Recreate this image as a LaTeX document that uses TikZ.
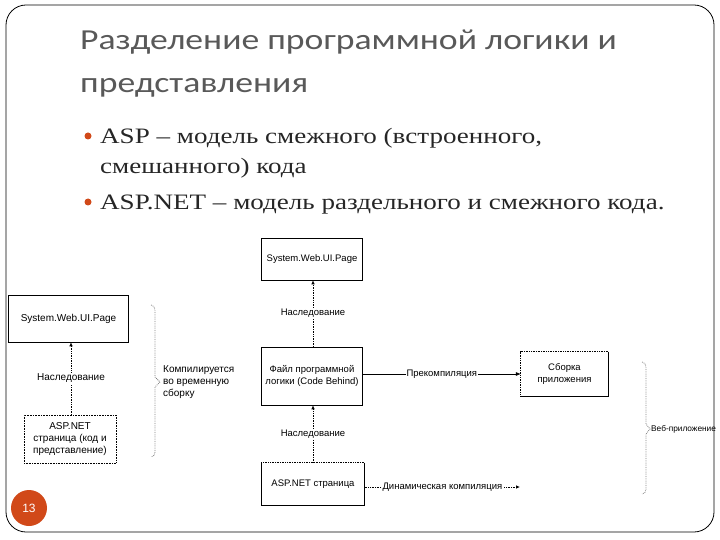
\documentclass[tikz,border=0pt]{standalone}
\usepackage{fontspec}
\setmainfont{Liberation Serif}
\newfontfamily\titlefont{Carlito}
\newfontfamily\diag{Liberation Sans}
\usetikzlibrary{arrows.meta}
\definecolor{accent}{HTML}{D14919}
\definecolor{titlegray}{HTML}{595959}
\definecolor{bodytext}{HTML}{262626}
\newcommand{\wideT}[1]{\scalebox{1.23}[1]{#1}}
\newcommand{\wideB}[1]{\scalebox{1.23}[1]{#1}}
\tikzset{
  x=1pt, y=-1pt,
  box/.style={draw=black, line width=0.6pt, inner sep=2pt, align=center, font=\diag\fontsize{9.5}{11.5}\selectfont},
  plainbox/.style={inner sep=2pt, align=center, font=\diag\fontsize{9.5}{11.5}\selectfont},
  lbl/.style={font=\diag\fontsize{9.5}{11.5}\selectfont, fill=white, inner sep=1pt},
  inh/.style={densely dotted, line width=0.7pt, -{Latex[length=4pt,width=3.5pt]}},
  solidarr/.style={line width=0.6pt, -{Latex[length=5pt,width=4pt]}},
  brace/.style={gray, densely dotted, line width=0.8pt},
  bullettext/.style={anchor=base west, inner sep=0pt, text=bodytext, font=\fontsize{22}{26}\selectfont},
  titletext/.style={anchor=base west, inner sep=0pt, text=titlegray, font=\titlefont\fontsize{29}{34}\selectfont},
}
\begin{document}
\begin{tikzpicture}
\useasboundingbox (0,0) rectangle (720,540);
% slide frame
\draw[line width=0.8pt, rounded corners=20pt] (6,5) rectangle (714,532);

% title
\node[titletext] (t1) at (80,50) {\wideT{Разделение программной логики и}};
\node[titletext] (t2) at (80,93) {\wideT{представления}};

% bullets
\node[circle, fill=accent, inner sep=0pt, minimum size=7pt] (b1) at (88,136) {};
\node[bullettext] (l1) at (100,144) {\wideB{ASP -- модель смежного (встроенного,}};
\node[bullettext] (l2) at (100,174) {\wideB{смешанного) кода}};
\node[circle, fill=accent, inner sep=0pt, minimum size=7pt] (b2) at (88,202) {};
\node[bullettext] (l3) at (100,210) {\wideB{ASP.NET -- модель раздельного и смежного кода.}};

% ---- left diagram
\node[box, minimum width=120pt, minimum height=47pt, font=\diag\fontsize{10}{12}\selectfont] (p1) at (68.5,318.5) {System.Web.UI.Page};
\node[box, densely dotted, minimum width=92pt, minimum height=48pt, font=\diag\fontsize{10}{12}\selectfont] (p2) at (70,439) {ASP.NET\\страница (код и\\представление)};
\draw[inh] (p2.north -| 71,0) -- node[lbl, font=\diag\fontsize{10}{12}\selectfont] {Наследование} (p1.south -| 71,0);
\draw[brace] (151,305) to[out=0,in=90] (155,310) -- (155,377) -- (160,382) -- (155,387) -- (155,452) to[out=-90,in=0] (151,457);
\node[anchor=west, align=left, inner sep=0pt, font=\diag\fontsize{10}{12}\selectfont] (compl) at (163,382) {Компилируется\\во временную\\сборку};

% ---- middle diagram
\node[box, minimum width=101pt, minimum height=42pt] (A) at (312,259) {System.Web.UI.Page};
\node[box, minimum width=101pt, minimum height=58pt] (B) at (312,376) {Файл программной\\логики (Code Behind)};
\node[plainbox, minimum width=103pt, minimum height=42pt] (C) at (313,484) {ASP.NET страница};
\draw[line width=0.6pt] (C.north east) -- (C.south east) -- (C.south west) -- (C.north west);
\draw[densely dotted, line width=0.7pt] (C.north west) -- (C.north east);
\node[plainbox, minimum width=87pt, minimum height=44pt] (D) at (564.5,374) {Сборка\\приложения};
\draw[line width=0.6pt] (D.north east) -- (D.south east) -- (D.south west);
\draw[densely dotted, line width=0.7pt] (D.south west) -- (D.north west) -- (D.north east);

\draw[inh] (B.north -| 313,0) -- node[lbl] {Наследование} (A.south -| 313,0);
\draw[inh] (C.north -| 313,0) -- node[lbl] {Наследование} (B.south -| 313,0);
\draw[solidarr] (B.east |- D) -- node[lbl] {Прекомпиляция} (D.west);
\coordinate (dynend) at (520,487);
\draw[inh] (C.east |- dynend) -- node[lbl] {Динамическая компиляция} (dynend);

% right brace
\draw[brace] (642,362) to[out=0,in=90] (646,367) -- (646,424) -- (650,429) -- (646,434) -- (646,489) to[out=-90,in=0] (642,494);
\node[anchor=west, inner sep=0pt, font=\diag\fontsize{8.3}{10}\selectfont] (web) at (651,429) {Веб-приложение};

% page number
\node[circle, fill=accent, minimum size=36pt, inner sep=0pt, text=white, font=\diag\fontsize{12}{14}\selectfont] (pg) at (29,508) {13};
\end{tikzpicture}
\end{document}
